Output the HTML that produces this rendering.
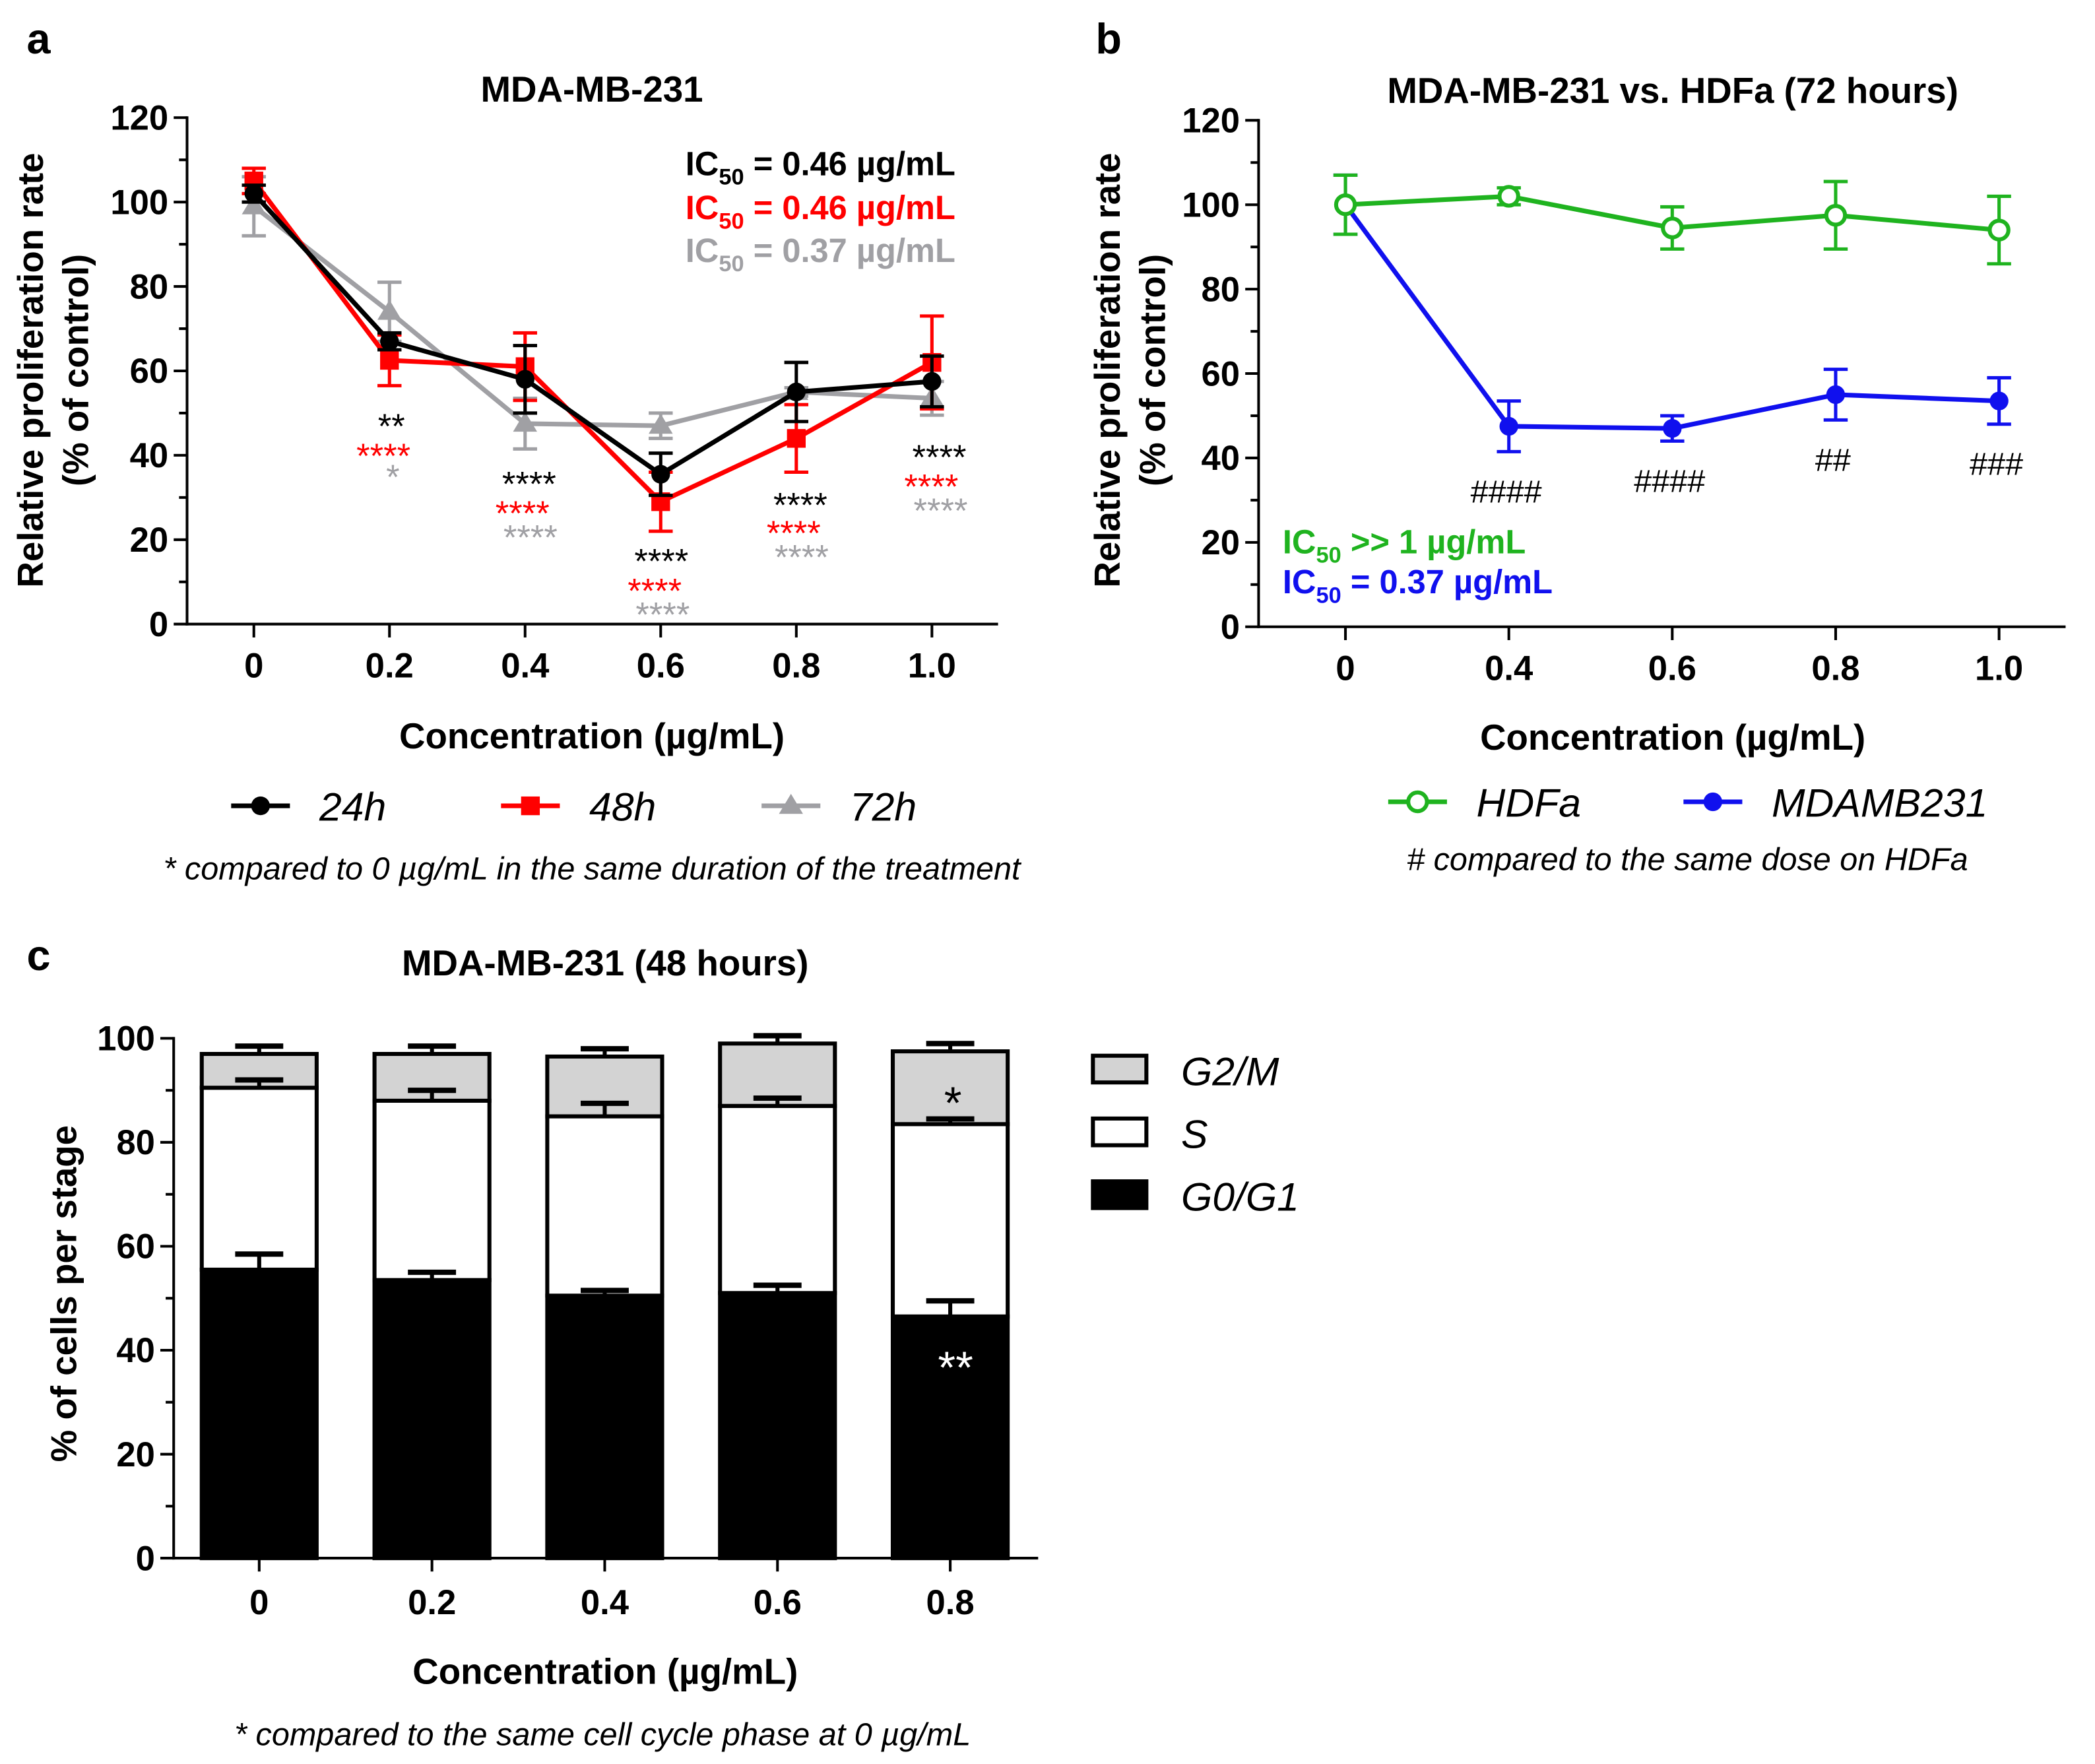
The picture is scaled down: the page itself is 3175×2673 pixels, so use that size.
<!DOCTYPE html>
<html><head><meta charset="utf-8"><style>
html,body{margin:0;padding:0;background:#fff}
svg{display:block}
text{font-family:"Liberation Sans",Arial,sans-serif}
</style></head><body>
<svg id="s" xmlns="http://www.w3.org/2000/svg" width="3175" height="2673" viewBox="0 0 1568 1320">
<g font-weight="bold" font-size="32">
<text x="20" y="40">a</text>
<text x="820" y="40">b</text>
<text x="20" y="726">c</text>
</g>
<g font-weight="bold" font-size="27" text-anchor="middle">
<text x="443" y="76">MDA-MB-231</text>
<text x="1252" y="77">MDA-MB-231 vs. HDFa (72 hours)</text>
<text x="453" y="730">MDA-MB-231 (48 hours)</text>
<text x="443" y="560">Concentration (µg/mL)</text>
<text x="1252" y="561">Concentration (µg/mL)</text>
<text x="453" y="1260">Concentration (µg/mL)</text>
<text transform="translate(32,277) rotate(-90)">Relative proliferation rate</text>
<text transform="translate(66,277) rotate(-90)">(% of control)</text>
<text transform="translate(838,277) rotate(-90)">Relative proliferation rate</text>
<text transform="translate(872,277) rotate(-90)">(% of control)</text>
<text transform="translate(57,968) rotate(-90)">% of cells per stage</text>
</g>
<g font-weight="bold" font-size="25">
<text x="513" y="131" fill="#000">IC<tspan font-size="17" dy="7">50</tspan><tspan dy="-7"> = 0.46 µg/mL</tspan></text>
<text x="513" y="164" fill="#f00">IC<tspan font-size="17" dy="7">50</tspan><tspan dy="-7"> = 0.46 µg/mL</tspan></text>
<text x="513" y="196" fill="#a0a0a4">IC<tspan font-size="17" dy="7">50</tspan><tspan dy="-7"> = 0.37 µg/mL</tspan></text>
<text x="960" y="414" fill="#1fb31f">IC<tspan font-size="17" dy="7">50</tspan><tspan dy="-7"> &gt;&gt; 1 µg/mL</tspan></text>
<text x="960" y="444" fill="#1010ee">IC<tspan font-size="17" dy="7">50</tspan><tspan dy="-7"> = 0.37 µg/mL</tspan></text>
</g>
<g font-style="italic" font-size="24" text-anchor="middle">
<text x="443" y="658">* compared to 0 µg/mL in the same duration of the treatment</text>
<text x="1263" y="651"># compared to the same dose on HDFa</text>
<text x="451" y="1306">* compared to the same cell cycle phase at 0 µg/mL</text>
</g>
<g id="ga"></g><g id="gb"></g><g id="gc"></g>
</svg>
<script>
const NS="http://www.w3.org/2000/svg";
function mk(p,t,a){const e=document.createElementNS(NS,t);for(const k in a)e.setAttribute(k,a[k]);p.appendChild(e);return e;}
// Panel A data
const aCats=[0,0.2,0.4,0.6,0.8,1.0];
const aTicks=["0","0.2","0.4","0.6","0.8","1.0"];
const a24=[102,67,58,35.5,55,57.5];
const a24e=[2,2,8,5,7,6];
const a48=[105,62.5,61,29,44,62];
const a48e=[3,6,8,7,8,11];
const a72=[99,74,47.5,47,55,53.5];
const a72e=[7,7,6,3,1,4];
const yTicksA=[0,20,40,60,80,100,120];
// Panel B data (categorical, equally spaced)
const bCats=["0","0.4","0.6","0.8","1.0"];
const bHdfa=[100,102,94.5,97.5,94];
const bHdfaE=[7,2,5,8,8];
const bMda=[100,47.5,47,55,53.5];
const bMdaE=[7,6,3,6,5.5];
const bHash=["","####","####","##","###"];
// Panel C data
const cCats=["0","0.2","0.4","0.6","0.8"];
const cG0=[55.5,53.5,50.5,51,46.5];
const cG0e=[3,1.5,1,1.5,3];
const cS=[35,34.5,34.5,36,37];
const cSe=[1.5,2,2.5,1.5,1];
const cG2=[6.5,9,11.5,12,14];
const cG2e=[1.5,1.5,1.5,1.5,1.5];
const yTicksC=[0,20,40,60,80,100];

function axisY(g,x,y0,y1,ticks,max,name,minor){
  const ys=v=>y0-(v/max)*(y0-y1);
  mk(g,'line',{x1:x,y1:y0+1,x2:x,y2:y1-1,stroke:'#000','stroke-width':2});
  ticks.forEach((t,i)=>{const y=ys(t);
    mk(g,'line',{x1:x-10,y1:y,x2:x,y2:y,stroke:'#000','stroke-width':2});
    const tx=mk(g,'text',{x:x-14,y:y+9,'text-anchor':'end','font-weight':'bold','font-size':26});tx.textContent=t;
    
    
    if(i<ticks.length-1&&minor){const ym=ys(t+minor);mk(g,'line',{x1:x-6,y1:ym,x2:x,y2:ym,stroke:'#000','stroke-width':2});}
  });
  return ys;
}
function errbar(g,x,yT,yB,col,w){
  mk(g,'line',{x1:x,y1:yT,x2:x,y2:yB,stroke:col,'stroke-width':2.5});
  mk(g,'line',{x1:x-w,y1:yT,x2:x+w,y2:yT,stroke:col,'stroke-width':2.5});
  mk(g,'line',{x1:x-w,y1:yB,x2:x+w,y2:yB,stroke:col,'stroke-width':2.5});
}
function marker(g,type,x,y,col){
  let e;
  if(type==='c')e=mk(g,'circle',{cx:x,cy:y,r:7,fill:col});
  else if(type==='o')e=mk(g,'circle',{cx:x,cy:y,r:7,fill:'#fff',stroke:col,'stroke-width':3});
  else if(type==='s')e=mk(g,'rect',{x:x-7,y:y-7,width:14,height:14,fill:col});
  else e=mk(g,'polygon',{points:`${x},${y-9} ${x-9},${y+6} ${x+9},${y+6}`,fill:col});
  return e;
}
// Panel A
(function(){
  const g=document.getElementById('ga');
  const y=axisY(g,140,467,88,yTicksA,120,'a-y',10);
  const x=v=>190+v*507.5;
  mk(g,'line',{x1:139,y1:467,x2:747,y2:467,stroke:'#000','stroke-width':2});
  aCats.forEach((c,i)=>{mk(g,'line',{x1:x(c),y1:467,x2:x(c),y2:477,stroke:'#000','stroke-width':2});
    const t=mk(g,'text',{x:x(c),y:507,'text-anchor':'middle','font-weight':'bold','font-size':26});t.textContent=aTicks[i];
    
    });
  const series=[[a72,a72e,'#a0a0a4','t','72h'],[a48,a48e,'#f00','s','48h'],[a24,a24e,'#000','c','24h']];
  series.forEach(([v,e,col,m,nm])=>{
    const sg=mk(g,'g',{});
    
    
    v.forEach((d,i)=>errbar(sg,x(aCats[i]),y(d+e[i]),y(d-e[i]),col,9));
    mk(sg,'polyline',{points:v.map((d,i)=>x(aCats[i])+','+y(d)).join(' '),fill:'none',stroke:col,'stroke-width':3.5});
    v.forEach((d,i)=>{const p=marker(sg,m,x(aCats[i]),y(d),col);
      
      });
  });
  const stars=[[[293,320,'**','#000'],[287,342,'****','#f00'],[294,358,'*','#a0a0a4']],
    [[396,363,'****','#000'],[391,385,'****','#f00'],[397,403,'****','#a0a0a4']],
    [[495,421,'****','#000'],[490,443,'****','#f00'],[496,461,'****','#a0a0a4']],
    [[599,379,'****','#000'],[594,400,'****','#f00'],[600,418,'****','#a0a0a4']],
    [[703,343,'****','#000'],[697,365,'****','#f00'],[704,383,'****','#a0a0a4']]];
  stars.flat().forEach(([sx,sy,t,c])=>{const e=mk(g,'text',{x:sx,y:sy+8,'text-anchor':'middle','font-size':26,fill:c});e.textContent=t;
    
    });
  const leg=[[195,'c','#000','24h'],[397,'s','#f00','48h'],[592,'t','#a0a0a4','72h']];
  leg.forEach(([lx,m,c,t])=>{const lg=mk(g,'g',{});
    
    
    mk(lg,'line',{x1:lx-22,y1:603,x2:lx+22,y2:603,stroke:c,'stroke-width':3.5});marker(lg,m,lx,603,c);
    const e=mk(lg,'text',{x:lx+44,y:614,'font-style':'italic','font-size':30});e.textContent=t;});
})();
// Panel B
(function(){
  const g=document.getElementById('gb');
  const y=axisY(g,942,469,90,yTicksA,120,'b-y',10);
  const x=i=>1007+i*122.3;
  mk(g,'line',{x1:941,y1:469,x2:1546,y2:469,stroke:'#000','stroke-width':2});
  bCats.forEach((c,i)=>{mk(g,'line',{x1:x(i),y1:469,x2:x(i),y2:479,stroke:'#000','stroke-width':2});
    const t=mk(g,'text',{x:x(i),y:509,'text-anchor':'middle','font-weight':'bold','font-size':26});t.textContent=c;
    
    
    if(bHash[i]){const h=mk(g,'text',{x:x(i)-2,y:y(bMda[i]-bMdaE[i])+38,'text-anchor':'middle','font-size':24});h.textContent=bHash[i];
      
      }});
  [[bMda,bMdaE,'#1010ee','c','mdamb231'],[bHdfa,bHdfaE,'#1fb31f','o','hdfa']].forEach(([v,e,col,m,nm])=>{
    const sg=mk(g,'g',{});
    
    
    v.forEach((d,i)=>errbar(sg,x(i),y(d+e[i]),y(d-e[i]),col,9));
    mk(sg,'polyline',{points:v.map((d,i)=>x(i)+','+y(d)).join(' '),fill:'none',stroke:col,'stroke-width':3.5});
    v.forEach((d,i)=>{const p=marker(sg,m,x(i),y(d),col);
      
      });
  });
  [[1061,'o','#1fb31f','HDFa'],[1282,'c','#1010ee','MDAMB231']].forEach(([lx,m,c,t])=>{const lg=mk(g,'g',{});
    
    
    mk(lg,'line',{x1:lx-22,y1:600,x2:lx+22,y2:600,stroke:c,'stroke-width':3.5});marker(lg,m,lx,600,c);
    const e=mk(lg,'text',{x:lx+44,y:611,'font-style':'italic','font-size':30});e.textContent=t;});
})();
// Panel C
(function(){
  const g=document.getElementById('gc');
  const y=axisY(g,130,1166,777,yTicksC,100,'c-y',10);
  mk(g,'line',{x1:129,y1:1166,x2:777,y2:1166,stroke:'#000','stroke-width':2});
  const x=i=>194+i*129.3, bw=86;
  cCats.forEach((c,i)=>{
    const cx=x(i), b0=cG0[i], b1=b0+cS[i], b2=b1+cG2[i];
    const segs=[[0,b0,'#000','g0g1'],[b0,b1,'#fff','s'],[b1,b2,'#d3d3d3','g2m']];
    segs.forEach(([lo,hi,f,nm])=>{const r=mk(g,'rect',{x:cx-bw/2,y:y(hi),width:bw,height:y(lo)-y(hi),fill:f,stroke:'#000','stroke-width':3});
      
      });
    [[b0,cG0e[i]],[b1,cSe[i]],[b2,cG2e[i]]].forEach(([v,e])=>{
      mk(g,'line',{x1:cx,y1:y(v),x2:cx,y2:y(v+e),stroke:'#000','stroke-width':3});
      mk(g,'line',{x1:cx-18,y1:y(v+e),x2:cx+18,y2:y(v+e),stroke:'#000','stroke-width':4});});
    mk(g,'line',{x1:cx,y1:1166,x2:cx,y2:1176,stroke:'#000','stroke-width':2});
    const t=mk(g,'text',{x:cx,y:1208,'text-anchor':'middle','font-weight':'bold','font-size':26});t.textContent=c;
    
    
  });
  const s1=mk(g,'text',{x:x(4)+2,y:837,'text-anchor':'middle','font-size':34});s1.textContent='*';
  
  
  const s2=mk(g,'text',{x:x(4)+4,y:1035,'text-anchor':'middle','font-size':34,fill:'#fff'});s2.textContent='**';
  
  
  [[790,'#d3d3d3','G2/M'],[837,'#fff','S'],[884,'#000','G0/G1']].forEach(([ly,f,t])=>{const lg=mk(g,'g',{});
    
    
    mk(lg,'rect',{x:818,y:ly,width:40,height:20,fill:f,stroke:'#000','stroke-width':3});
    const e=mk(lg,'text',{x:884,y:ly+22,'font-style':'italic','font-size':30});e.textContent=t;});
})();
</script>
</body></html>
